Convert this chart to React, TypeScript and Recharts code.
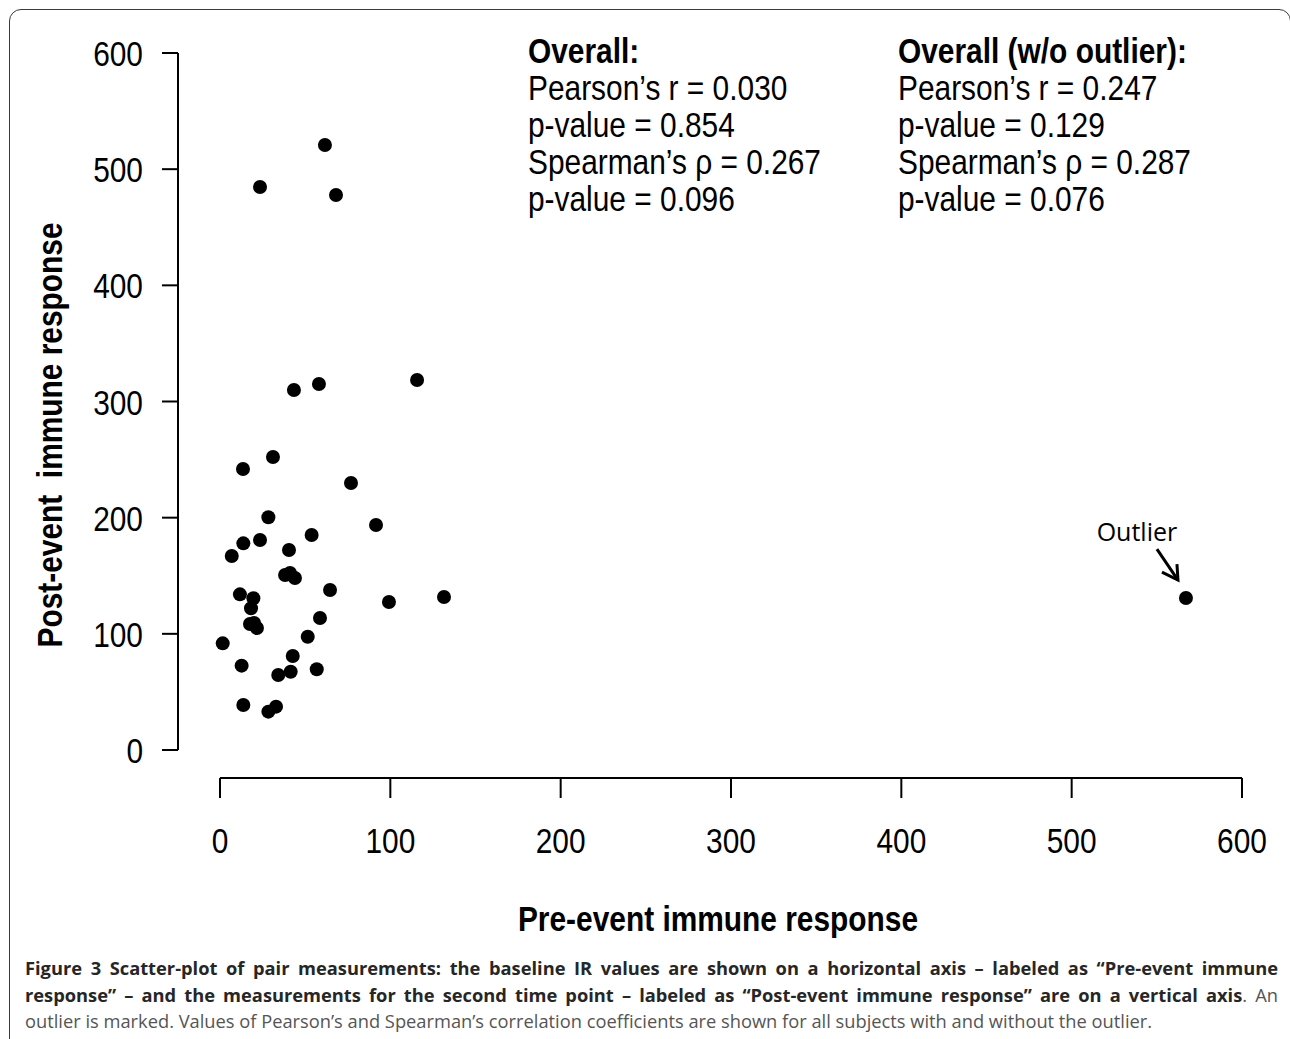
import React from "react";
import { ScatterChart, Scatter, XAxis, YAxis, ReferenceLine, ReferenceDot } from "recharts";

// pre-event (baseline) and post-event immune response, one entry per subject
const preEvent = [
  61.6, 23.5, 68.1, 43.4, 58.1, 115.7, 31.1, 13.5, 76.9, 28.4,
  91.6, 13.7, 23.5, 53.8, 40.5, 6.9, 38.2, 41.1, 44.0, 64.6,
  11.7, 19.6, 18.2, 99.2, 131.5, 17.6, 20.0, 21.7, 58.7, 51.5,
  1.6, 42.7, 12.7, 56.8, 34.2, 41.5, 13.7, 28.4, 32.9, 567.1,
];
const postEvent = [
  520.8, 484.6, 477.7, 309.9, 315.1, 318.5, 252.2, 241.9, 229.8, 200.3,
  193.7, 177.9, 180.8, 185.1, 172.2, 167.0, 150.6, 152.4, 148.1, 137.7,
  134.0, 130.6, 122.0, 127.4, 131.7, 108.5, 109.3, 105.0, 113.6, 97.5,
  91.8, 80.9, 72.6, 69.5, 64.6, 67.4, 38.7, 33.0, 37.3, 130.8,
];
const outlierIndex = 39;

const xTicks = [0, 100, 200, 300, 400, 500, 600];
const yTicks = [0, 100, 200, 300, 400, 500, 600];

const overallTitle = "Overall:";
const overallStats = ["Pearson’s r = 0.030", "p-value = 0.854", "Spearman’s ρ = 0.267", "p-value = 0.096"];
const noOutlierTitle = "Overall (w/o outlier):";
const noOutlierStats = ["Pearson’s r = 0.247", "p-value = 0.129", "Spearman’s ρ = 0.287", "p-value = 0.076"];

const points = preEvent.map((x, i) => ({ x, y: postEvent[i] }));

const FONT = "'Liberation Sans', Arial, sans-serif";
const SQUEEZE = 0.83;
const W = 1290;
const H = 1039;
const M = { top: 53, right: 48, bottom: 189, left: 140 };
const X_AXIS_H = 100;
const Y_AXIS_W = 80;
const plotW = W - M.left - Y_AXIS_W - M.right;
const plotH = H - M.top - M.bottom - X_AXIS_H;
// R draws its axes a little away from the data region
const xLineAt = -28 * (600 / plotH);
const yLineAt = -42 * (600 / plotW);

function Squeezed({ x, y, anchor = "start", size = 36, bold = false, rotate = 0, children }: any) {
  return (
    <text
      x={0}
      y={0}
      transform={`translate(${x},${y}) rotate(${rotate}) scale(${SQUEEZE},1)`}
      textAnchor={anchor}
      fontSize={size}
      fontWeight={bold ? "bold" : "normal"}
      fontFamily={FONT}
      fill="#000"
      style={{ whiteSpace: "pre" }}
    >
      {children}
    </text>
  );
}

const XTick = (props: any) => {
  const { x, y, payload } = props;
  return (
    <g>
      <line x1={x} x2={x} y1={y + 28} y2={y + 48} stroke="#000" strokeWidth={2} />
      <Squeezed x={x} y={y + 103} anchor="middle">{payload.value}</Squeezed>
    </g>
  );
};

const YTick = (props: any) => {
  const { x, y, payload } = props;
  return (
    <g>
      <line x1={x - 58} x2={x - 42} y1={y} y2={y} stroke="#000" strokeWidth={2} />
      <Squeezed x={x - 77} y={y + 13} anchor="end">{payload.value}</Squeezed>
    </g>
  );
};

const Dot = (props: any) => <circle cx={props.cx} cy={props.cy} r={7} fill="#000" />;

const OutlierNote = (props: any) => {
  const { cx, cy } = props;
  return (
    <g>
      <text x={cx - 49} y={cy - 57} textAnchor="middle" fontSize={25} fontFamily="'Open Sans', sans-serif" fill="#000">
        Outlier
      </text>
      <line x1={cx - 29} y1={cy - 49} x2={cx - 8} y2={cy - 18} stroke="#000" strokeWidth={3} />
      <polyline
        points={`${cx - 24},${cy - 26} ${cx - 8},${cy - 18} ${cx - 9},${cy - 34}`}
        fill="none"
        stroke="#000"
        strokeWidth={3}
      />
    </g>
  );
};

function StatBlock({ x, title, lines }: any) {
  return (
    <g>
      <Squeezed x={x} y={63} bold>{title}</Squeezed>
      {lines.map((l: string, i: number) => (
        <Squeezed key={i} x={x} y={100 + i * 37}>{l}</Squeezed>
      ))}
    </g>
  );
}

export default function App() {
  return (
    <div style={{ position: "absolute", left: 0, top: 0, width: W, height: H, overflow: "hidden", background: "#fff" }}>
      <div
        style={{
          position: "absolute",
          left: 9,
          top: 9,
          width: 1282,
          height: 1200,
          border: "1.5px solid #3a3a3a",
          borderRadius: 12,
          boxSizing: "border-box",
        }}
      />
      <div style={{ position: "absolute", left: 0, top: 0 }}>
        <ScatterChart width={W} height={H} margin={M}>
          <XAxis
            type="number"
            dataKey="x"
            domain={[0, 600]}
            ticks={xTicks}
            height={X_AXIS_H}
            axisLine={false}
            tickLine={false}
            tickSize={0}
            tickMargin={0}
            tick={<XTick />}
            interval={0}
          />
          <YAxis
            type="number"
            dataKey="y"
            domain={[0, 600]}
            ticks={yTicks}
            width={Y_AXIS_W}
            axisLine={false}
            tickLine={false}
            tickSize={0}
            tickMargin={0}
            tick={<YTick />}
            interval={0}
          />
          <ReferenceLine
            segment={[{ x: 0, y: xLineAt }, { x: 600, y: xLineAt }]}
            stroke="#000"
            strokeWidth={2}
            ifOverflow="visible"
          />
          <ReferenceLine
            segment={[{ x: yLineAt, y: 0 }, { x: yLineAt, y: 600 }]}
            stroke="#000"
            strokeWidth={2}
            ifOverflow="visible"
          />
          <Scatter data={points} shape={<Dot />} isAnimationActive={false} />
          <ReferenceDot
            x={points[outlierIndex].x}
            y={points[outlierIndex].y}
            r={0}
            ifOverflow="visible"
            shape={<OutlierNote />}
          />
        </ScatterChart>
      </div>
      <svg width={W} height={H} style={{ position: "absolute", left: 0, top: 0, pointerEvents: "none" }}>
        <StatBlock x={528} title={overallTitle} lines={overallStats} />
        <StatBlock x={898} title={noOutlierTitle} lines={noOutlierStats} />
        <Squeezed x={718} y={931} anchor="middle" bold>Pre-event immune response</Squeezed>
        <Squeezed x={62} y={435} anchor="middle" bold rotate={-90}>{"Post-event  immune response"}</Squeezed>
      </svg>
      <div
        style={{
          position: "absolute",
          left: 25,
          top: 955,
          width: 1253,
          fontFamily: "'Open Sans', sans-serif",
          fontSize: 18.3,
          lineHeight: "26.5px",
          color: "#555",
        }}
      >
        <div style={{ textAlign: "justify", textAlignLast: "justify", whiteSpace: "nowrap", fontWeight: "bold", color: "#262626" }}>
          Figure 3 Scatter-plot of pair measurements: the baseline IR values are shown on a horizontal axis – labeled as “Pre-event immune
        </div>
        <div style={{ textAlign: "justify", textAlignLast: "justify", whiteSpace: "nowrap" }}>
          <b style={{ color: "#262626" }}>
            response” – and the measurements for the second time point – labeled as “Post-event immune response” are on a vertical axis
          </b>
          . An
        </div>
        <div style={{ whiteSpace: "nowrap" }}>
          outlier is marked. Values of Pearson’s and Spearman’s correlation coefficients are shown for all subjects with and without the outlier.
        </div>
      </div>
    </div>
  );
}
